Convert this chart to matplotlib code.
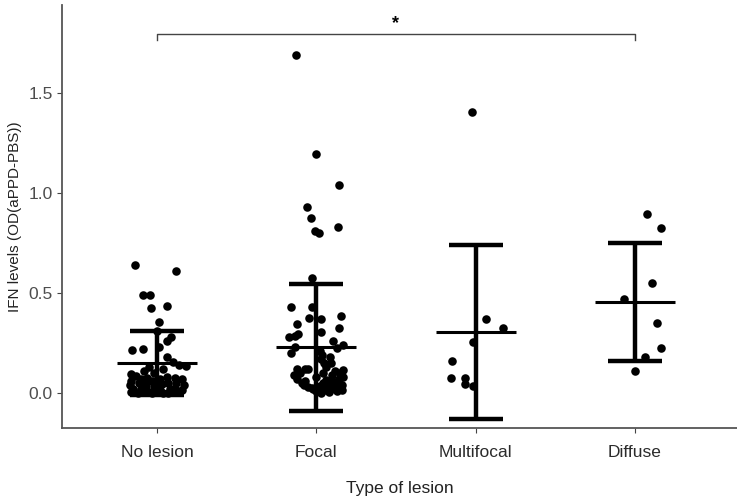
import matplotlib
matplotlib.use("Agg")
import matplotlib.pyplot as plt
import numpy as np

plt.rcParams['font.family'] = ['Liberation Sans', 'DejaVu Sans']

categories = ["No lesion", "Focal", "Multifocal", "Diffuse"]

# (value, horizontal jitter offset)
no_lesion_vals = [0.64, 0.61, 0.49, 0.49, 0.435, 0.425, 0.355, 0.31, 0.28, 0.26, 0.23, 0.22, 0.215,
                  0.18, 0.155, 0.14, 0.135, 0.13, 0.095, 0.12, 0.11, 0.10,
                  0.085, 0.06, 0.04, 0.02, 0.005, 0.07, 0.05, 0.02, 0.0, 0.075, 0.04, 0.01,
                  0.06, 0.03, 0.0, 0.07, 0.045, 0.015, 0.0, 0.08, 0.05, 0.02, 0.0,
                  0.075, 0.05, 0.025, 0.005, 0.07, 0.04, 0.015]
no_lesion_jit = [-0.14, 0.12, -0.09, -0.045, 0.06, -0.035, 0.015, 0.0, 0.09, 0.06, 0.01, -0.09, -0.155,
                 0.06, 0.10, 0.14, 0.18, -0.05, -0.165, 0.04, -0.08, -0.02,
                 -0.13, -0.16, -0.17, -0.15, -0.16, -0.10, -0.11, -0.10, -0.12, -0.06, -0.07, -0.06,
                 -0.03, -0.02, -0.03, 0.02, 0.03, 0.02, 0.04, 0.06, 0.07, 0.08, 0.07,
                 0.11, 0.12, 0.11, 0.12, 0.16, 0.17, 0.16]

focal_vals = [1.69, 1.195, 1.043, 0.932, 0.877, 0.81, 0.80, 0.83, 0.573, 0.43, 0.428,
              0.376, 0.37, 0.385, 0.343, 0.303, 0.323, 0.293, 0.284, 0.278,
              0.261, 0.239, 0.23, 0.226, 0.197, 0.19, 0.18, 0.147, 0.12, 0.118, 0.114,
              0.21, 0.17, 0.15, 0.13, 0.10, 0.08,
              0.12, 0.10, 0.09, 0.07, 0.06, 0.05,
              0.04, 0.03, 0.02, 0.01, 0.035, 0.05, 0.015, 0.045, 0.02, 0.06, 0.03, 0.01,
              0.07, 0.04, 0.015, 0.08, 0.005, 0.0, 0.025, 0.055, 0.065, 0.09, 0.10, 0.11]
focal_jit = [-0.126, 0.0, 0.14, -0.06, -0.033, -0.01, 0.015, 0.135, -0.025, -0.16, -0.027,
             -0.044, 0.03, 0.157, -0.12, 0.03, 0.14, -0.113, -0.132, -0.17,
             0.103, 0.168, -0.132, 0.13, -0.16, 0.036, 0.084, 0.09, -0.07, -0.05, 0.17,
             0.02, 0.03, 0.05, 0.06, 0.04, 0.0,
             -0.12, -0.10, -0.14, -0.12, -0.07, -0.09,
             -0.08, -0.05, -0.02, 0.0, 0.02, 0.04, 0.05, 0.08, 0.09, 0.10, 0.12, 0.13,
             0.14, 0.16, 0.16, 0.17, 0.08, 0.03, -0.03, 0.12, 0.06, 0.10, 0.15, 0.12]

multifocal_vals = [1.405, 0.368, 0.323, 0.256, 0.159, 0.075, 0.072, 0.044, 0.034]
multifocal_jit = [-0.02, 0.065, 0.17, -0.015, -0.15, -0.155, -0.07, -0.07, -0.015]

diffuse_vals = [0.896, 0.827, 0.548, 0.47, 0.351, 0.223, 0.177, 0.11]
diffuse_jit = [0.075, 0.163, 0.105, -0.07, 0.135, 0.163, 0.065, -0.002]

# summary (mean and mean +/- SD)
means = [0.148, 0.228, 0.305, 0.455]
lower = [-0.01, -0.09, -0.13, 0.16]
upper = [0.31, 0.545, 0.74, 0.75]

yticks = [0.0, 0.5, 1.0, 1.5]
yticklabels = ["0.0", "0.5", "1.0", "1.5"]

bracket_y = 1.80
bracket_tick = 0.03
star_y = 1.85

fig = plt.figure(figsize=(7.37, 5.04), dpi=100)
ax = fig.add_axes([62/737, 1 - 428/504, 1 - 62/737, (428 - 5)/504])

groups = [(no_lesion_vals, no_lesion_jit), (focal_vals, focal_jit),
          (multifocal_vals, multifocal_jit), (diffuse_vals, diffuse_jit)]
for i, (vals, jit) in enumerate(groups):
    xs = np.full(len(vals), i + 1.0) + np.array(jit)
    ax.scatter(xs, vals, s=38, color='black', zorder=3, linewidths=0)

for i in range(4):
    x = i + 1
    ax.plot([x, x], [lower[i], upper[i]], color='black', lw=3.2, zorder=4, solid_capstyle='butt')
    ax.plot([x - 0.17, x + 0.17], [lower[i], lower[i]], color='black', lw=3.2, zorder=4, solid_capstyle='butt')
    ax.plot([x - 0.17, x + 0.17], [upper[i], upper[i]], color='black', lw=3.2, zorder=4, solid_capstyle='butt')
    ax.plot([x - 0.25, x + 0.25], [means[i], means[i]], color='black', lw=2.2, zorder=4, solid_capstyle='butt')

# significance bracket
ax.plot([1, 1, 4, 4], [bracket_y - bracket_tick, bracket_y, bracket_y, bracket_y - bracket_tick],
        color='#444444', lw=1.0)
ax.text(2.5, star_y, "*", ha='center', va='center', fontsize=13, fontweight='bold', color='black')

ax.set_xlim(0.404, 4.64)
ax.set_ylim(-0.177, 1.943)
ax.set_xticks([1, 2, 3, 4])
ax.set_xticklabels(categories, fontsize=12.5, color='#2b2b2b')
ax.set_yticks(yticks)
ax.set_yticklabels(yticklabels, fontsize=12.5, color='#4d4d4d')
ax.tick_params(axis='both', length=3.5, width=0.8, color='#444444', pad=3)
ax.tick_params(axis='x', pad=9)
ax.set_xlabel("Type of lesion", fontsize=12.5, color='#222222', labelpad=15)
ax.set_ylabel("IFN levels (OD(aPPD-PBS))", fontsize=11, color='#222222', labelpad=5)

for s in ['top', 'right']:
    ax.spines[s].set_visible(False)
for s in ['left', 'bottom']:
    ax.spines[s].set_color('#555555')
    ax.spines[s].set_linewidth(1.3)

fig.savefig("out.png", dpi=100)
